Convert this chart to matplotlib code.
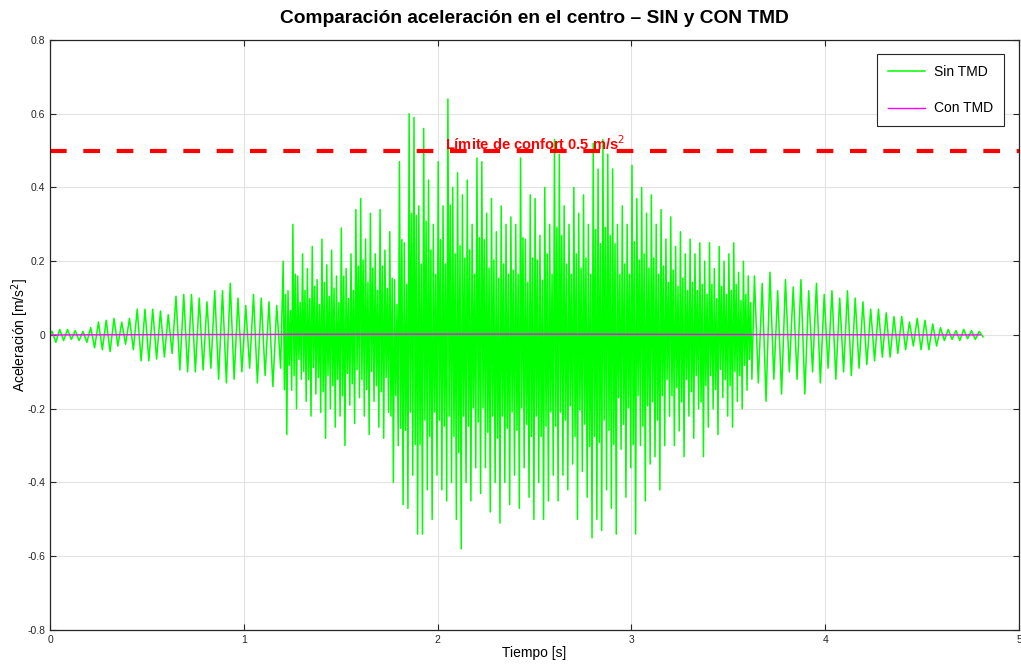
import numpy as np
import matplotlib
matplotlib.use("Agg")
import matplotlib.pyplot as plt

plt.rcParams['font.family'] = ['Liberation Sans', 'DejaVu Sans']
plt.rcParams['axes.unicode_minus'] = False

# --- Sin TMD: extremos por ciclo ---
# tramo inicial 0 - 1.2 s, un ciclo cada 0.04 s
ini_t0, ini_dt = 0.0, 0.04
ini_max = [0.01, 0.015, 0.015, 0.012, 0.01, 0.02, 0.035, 0.04, 0.045, 0.035,
           0.045, 0.07, 0.07, 0.07, 0.065, 0.055, 0.105, 0.11, 0.11, 0.10,
           0.09, 0.12, 0.12, 0.14, 0.10, 0.08, 0.11, 0.10, 0.09, 0.08]
ini_min = [-0.02, -0.015, -0.012, -0.015, -0.02, -0.035, -0.04, -0.045, -0.03, -0.025,
           -0.04, -0.07, -0.07, -0.065, -0.06, -0.05, -0.095, -0.10, -0.10, -0.095,
           -0.09, -0.12, -0.13, -0.12, -0.10, -0.09, -0.13, -0.11, -0.14, -0.09]

# tramo central 1.2 - 3.625 s (paso de peatones), un ciclo cada 0.025 s
med_t0, med_dt = 1.2, 0.025
med_max = [0.20, 0.12, 0.30, 0.16, 0.22, 0.18, 0.24, 0.15,
           0.26, 0.19, 0.23, 0.16, 0.29, 0.18, 0.22, 0.34,
           0.37, 0.26, 0.33, 0.22, 0.34, 0.23, 0.28, 0.15,
           0.47, 0.25, 0.60, 0.59, 0.35, 0.56, 0.42, 0.30,
           0.47, 0.35, 0.64, 0.40, 0.44, 0.38, 0.42, 0.30,
           0.48, 0.47, 0.33, 0.37, 0.28, 0.35, 0.30, 0.32,
           0.30, 0.48, 0.26, 0.38, 0.37, 0.27, 0.40, 0.30,
           0.53, 0.49, 0.35, 0.30, 0.40, 0.33, 0.38, 0.30,
           0.52, 0.45, 0.53, 0.49, 0.45, 0.30, 0.35, 0.30,
           0.46, 0.37, 0.40, 0.33, 0.38, 0.30, 0.34, 0.26,
           0.32, 0.24, 0.28, 0.22, 0.26, 0.22, 0.25, 0.20,
           0.25, 0.18, 0.24, 0.20, 0.22, 0.25, 0.17, 0.20, 0.16]
med_min = [-0.27, -0.15, -0.20, -0.12, -0.18, -0.22, -0.16, -0.21,
           -0.28, -0.20, -0.25, -0.22, -0.30, -0.19, -0.24, -0.17,
           -0.22, -0.27, -0.18, -0.25, -0.28, -0.21, -0.40, -0.30,
           -0.46, -0.47, -0.38, -0.54, -0.54, -0.42, -0.50, -0.38,
           -0.42, -0.45, -0.40, -0.50, -0.58, -0.40, -0.45, -0.36,
           -0.43, -0.36, -0.48, -0.40, -0.51, -0.40, -0.46, -0.38,
           -0.47, -0.36, -0.44, -0.50, -0.40, -0.50, -0.45, -0.38,
           -0.45, -0.38, -0.42, -0.35, -0.50, -0.37, -0.44, -0.55,
           -0.50, -0.53, -0.42, -0.47, -0.54, -0.31, -0.44, -0.36,
           -0.54, -0.30, -0.45, -0.35, -0.33, -0.42, -0.30, -0.22,
           -0.30, -0.26, -0.33, -0.22, -0.28, -0.20, -0.33, -0.25,
           -0.20, -0.27, -0.17, -0.22, -0.25, -0.18, -0.20, -0.15, -0.12]
# oscilaciones internas del tramo central respecto a los extremos de cada ciclo
med_interno = 0.55

# tramo final 3.625 - 4.825 s, un ciclo cada 0.04 s
fin_t0, fin_dt = 3.625, 0.04
fin_max = [0.16, 0.14, 0.17, 0.12, 0.15, 0.13, 0.15, 0.12, 0.14, 0.11,
           0.12, 0.10, 0.12, 0.10, 0.09, 0.07, 0.07, 0.06, 0.05, 0.05,
           0.035, 0.045, 0.04, 0.03, 0.02, 0.015, 0.012, 0.015, 0.012, 0.01]
fin_min = [-0.13, -0.18, -0.12, -0.16, -0.10, -0.12, -0.16, -0.10, -0.13, -0.09,
           -0.12, -0.10, -0.11, -0.09, -0.08, -0.07, -0.06, -0.06, -0.05, -0.04,
           -0.03, -0.04, -0.04, -0.03, -0.015, -0.012, -0.015, -0.01, -0.012, -0.005]

# --- Con TMD: respuesta casi nula, cada 0.1 s ---
con_t = np.arange(0, 4.85, 0.1)
con_acc = [0.0, 0.0003, 0.0005, 0.0006, 0.0008, 0.001, 0.001, 0.0012, 0.0013, 0.0014,
           0.0015, 0.0016, 0.0018, 0.002, 0.002, 0.0021, 0.0022, 0.0022, 0.0023, 0.0024,
           0.0024, 0.0025, 0.0025, 0.0025, 0.0025, 0.0024, 0.0024, 0.0023, 0.0022, 0.0021,
           0.002, 0.002, 0.0018, 0.0017, 0.0016, 0.0015, 0.0014, 0.0013, 0.0012, 0.001,
           0.001, 0.0008, 0.0007, 0.0006, 0.0005, 0.0004, 0.0003, 0.0002, 0.0002]

limite = 0.5


def tramo(t0, dt, vmax, vmin):
    t = t0 + dt * np.arange(len(vmax))
    tt = np.column_stack([t + dt / 4, t + 3 * dt / 4]).ravel()
    vv = np.column_stack([vmax, vmin]).ravel()
    return tt, vv


def tramo_denso(t0, dt, vmax, vmin, k):
    # cada ciclo: pico, valle interno, pico interno, valle
    vmax = np.asarray(vmax)
    vmin = np.asarray(vmin)
    t = t0 + dt * np.arange(len(vmax))
    tt = np.column_stack([t + dt / 8, t + 3 * dt / 8, t + 5 * dt / 8, t + 7 * dt / 8]).ravel()
    vv = np.column_stack([vmax, k * vmin, k * vmax, vmin]).ravel()
    return tt, vv


partes = [tramo(ini_t0, ini_dt, ini_max, ini_min),
          tramo_denso(med_t0, med_dt, med_max, med_min, med_interno),
          tramo(fin_t0, fin_dt, fin_max, fin_min)]
t_sin = np.concatenate([[0.0]] + [p[0] for p in partes])
a_sin = np.concatenate([[0.0]] + [p[1] for p in partes])

fig = plt.figure(figsize=(10.21, 6.64), dpi=100)
ax = fig.add_axes([0.049, 0.0512, 0.949, 0.8886])

ax.plot(t_sin, a_sin, color='#00ff00', lw=1.1, label='Sin TMD')
ax.plot(con_t, con_acc, color='#ff00ff', lw=1.0, label='Con TMD')
ax.axhline(limite, color='#ff0000', lw=3, dashes=(4, 4))
ax.text(2.5, 0.518, 'Límite de confort 0.5 m/s$^2$', color='#ff0000',
        fontsize=10.5, fontweight='bold', ha='center', va='center')

ax.set_xlim(0, 5)
ax.set_ylim(-0.8, 0.8)
ax.set_xticks(range(6))
yt = np.round(np.arange(-0.8, 0.81, 0.2), 1)
ax.set_yticks(yt)
ax.set_yticklabels(['0' if v == 0 else '%g' % v for v in yt])
ax.tick_params(direction='in', length=4, width=0.8, labelsize=7.5,
               top=True, right=True, colors='#262626')
ax.grid(True, color='#e3e3e3', lw=0.8)
ax.set_axisbelow(True)
for s in ax.spines.values():
    s.set_color('#262626')
    s.set_linewidth(0.9)

ax.set_xlabel('Tiempo [s]', fontsize=10, labelpad=1)
ax.set_ylabel('Aceleración [m/s$^2$]', fontsize=10, labelpad=-3)
ax.set_title('Comparación aceleración en el centro – SIN y CON TMD',
             fontsize=13.8, fontweight='bold', pad=12)

leg = ax.legend(loc='upper right', bbox_to_anchor=(0.9845, 0.976), fontsize=10,
                fancybox=False, framealpha=1, edgecolor='#262626',
                handlelength=2.7, labelspacing=1.65, borderpad=0.75,
                handletextpad=0.65, borderaxespad=0)
leg.get_frame().set_linewidth(0.8)

fig.savefig('out.png', dpi=100)
